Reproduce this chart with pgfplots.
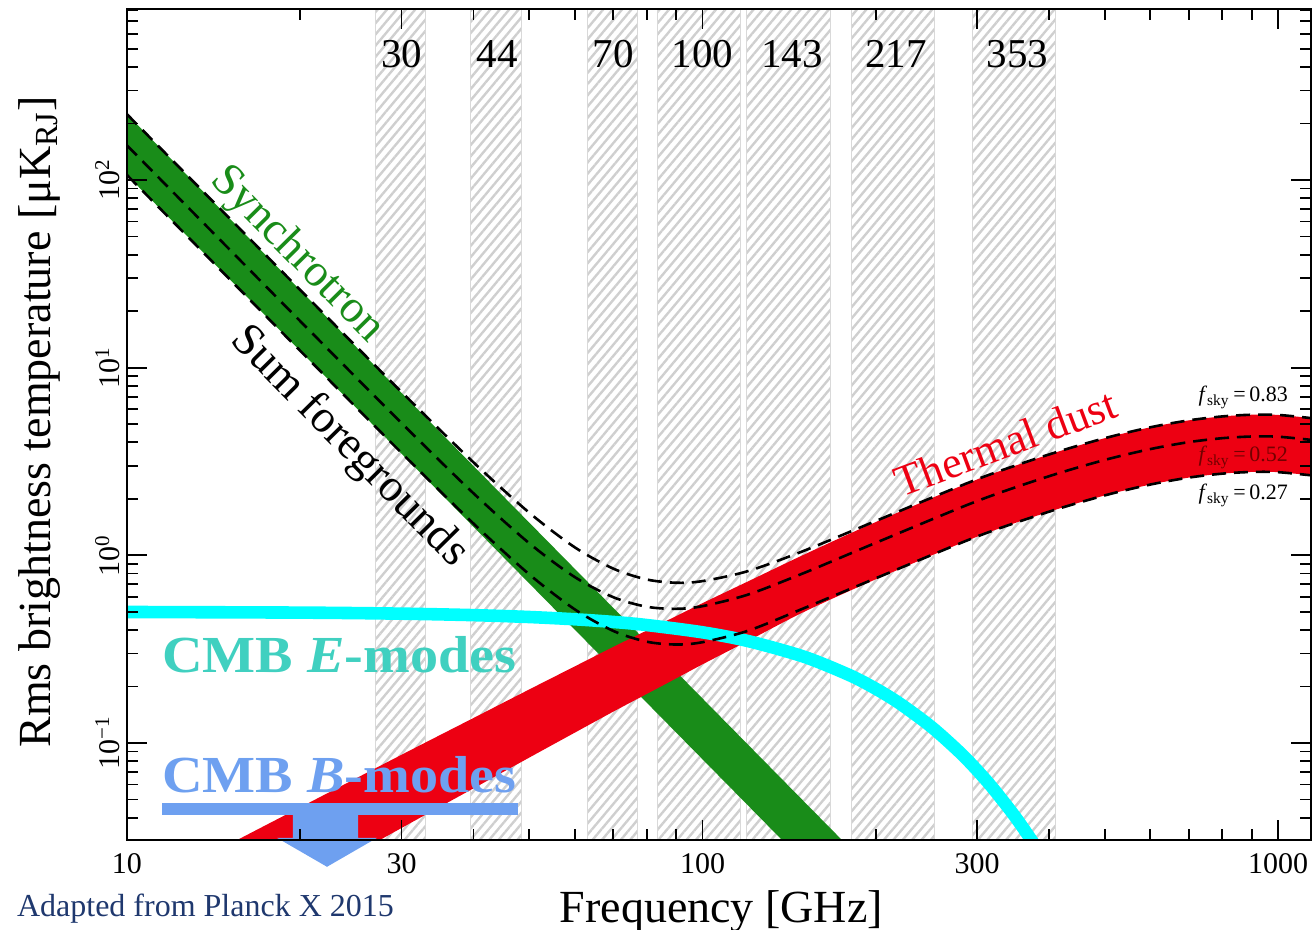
\documentclass[border=0pt]{standalone}
\usepackage{fontspec}
\setmainfont{Liberation Serif}
\usepackage{graphicx}
\usepackage{pgfplots}
\usepackage{pgfplotstable}
\pgfplotsset{compat=1.18}
\usepgfplotslibrary{fillbetween}
\usetikzlibrary{patterns.meta}

\definecolor{sgreen}{RGB}{25,140,25}
\definecolor{dred}{RGB}{237,0,18}
\definecolor{cmbcyan}{RGB}{0,255,255}
\definecolor{eturq}{RGB}{64,208,192}
\definecolor{bblue}{RGB}{110,160,240}
\definecolor{navytext}{RGB}{31,56,110}

% synchrotron rms: fsky = 0.83 (top), 0.52 (mid), 0.27 (bot)
\pgfplotstableread{
nu top mid bot
10 223.9 152.8 106.2
200 0.01995 0.01361 0.00946
}\synchtab

% thermal dust rms
\pgfplotstableread{
nu top mid bot
10 0.01493 0.01009 0.005321
15 0.02871 0.01977 0.01074
20 0.04539 0.03170 0.01762
30 0.08650 0.06152 0.03524
40 0.1358 0.09772 0.05728
50 0.1928 0.1403 0.08356
60 0.2559 0.1879 0.1135
70 0.3251 0.2404 0.1469
80 0.3972 0.2958 0.1824
90 0.4742 0.3548 0.2208
100 0.5559 0.4178 0.2624
120 0.7261 0.5508 0.3499
150 1.007 0.7709 0.4989
200 1.503 1.151 0.7447
300 2.535 1.941 1.256
400 3.443 2.636 1.706
500 4.207 3.221 2.084
600 4.808 3.681 2.382
700 5.236 4.009 2.594
800 5.495 4.207 2.723
900 5.610 4.295 2.780
1000 5.598 4.285 2.773
1150 5.370 4.111 2.661
}\dusttab

% sum of foregrounds
\pgfplotstableread{
nu top mid bot
10 223.9 152.8 106.2
15 63.42 43.27 30.07
20 25.93 17.69 12.29
30 7.414 5.062 3.510
40 3.128 2.139 1.476
50 1.686 1.159 0.7916
60 1.102 0.7653 0.5148
70 0.8487 0.5977 0.3952
80 0.7431 0.5318 0.3464
90 0.7141 0.5185 0.3346
100 0.7285 0.5356 0.3443
120 0.8239 0.6176 0.3963
150 1.056 0.8042 0.5221
200 1.523 1.165 0.7542
300 2.541 1.945 1.259
400 3.445 2.638 1.707
500 4.208 3.222 2.085
600 4.809 3.681 2.382
700 5.236 4.009 2.594
800 5.495 4.207 2.723
900 5.610 4.295 2.780
1000 5.598 4.285 2.773
1150 5.370 4.111 2.661
}\sumtab

% CMB E-modes
\pgfplotstableread{
nu T
10 0.4987
20 0.4949
30 0.4885
40 0.4798
50 0.4689
60 0.4560
70 0.4413
80 0.4249
100 0.3886
120 0.3491
150 0.2882
180 0.2299
200 0.1945
220 0.1625
250 0.1216
280 0.08905
300 0.07154
320 0.05707
350 0.04013
380 0.02784
400 0.02167
}\cmbtab

\tikzset{fill between/on layer=main}

\begin{document}
\begin{tikzpicture}
\begin{axis}[
  at={(0,0)}, anchor=south west,
  scale only axis, width=592pt, height=415.5pt,
  xmode=log, ymode=log,
  xmin=10, xmax=1141, ymin=0.0304, ymax=815,
  axis on top,
  clip mode=individual,
  axis line style={line width=1pt},
  tick style={black, line width=0.9pt},
  major tick length=10pt, minor tick length=5.5pt,
  xtick={10,30,100,300,1000},
  xticklabels={10,30,100,300,1000},
  minor xtick={20,40,50,60,70,80,90,200,400,500,600,700,800,900},
  ytick={0.1,1,10,100},
  yticklabels={10\textsuperscript{−1},10\textsuperscript{0},10\textsuperscript{1},10\textsuperscript{2}},
  minor ytick={0.04,0.05,0.06,0.07,0.08,0.09,0.2,0.3,0.4,0.5,0.6,0.7,0.8,0.9,2,3,4,5,6,7,8,9,20,30,40,50,60,70,80,90,200,300,400,500,600,700,800},
  tick label style={font=\fontsize{15}{18}\selectfont},
  xticklabel style={yshift=-3pt},
  yticklabel style={rotate=90, anchor=south},
  xlabel={Frequency [GHz]},
  ylabel={Rms brightness temperature [μK\textsubscript{RJ}]},
  label style={font=\fontsize{23}{27}\selectfont},
  xlabel style={at={(axis description cs:0.502,-0.0987)}, anchor=base},
  ylabel style={at={(axis description cs:-0.065,0.503)}, anchor=base},
  bandstyle/.style={draw=gray!30, line width=0.5pt, pattern={Lines[angle=50,distance=3.6pt,line width=1.2pt]}, pattern color=gray!38},
]
% Planck frequency bands
\addplot[bandstyle] coordinates {(27,0.02) (33,0.02) (33,1000) (27,1000)} --cycle;
\addplot[bandstyle] coordinates {(39.6,0.02) (48.4,0.02) (48.4,1000) (39.6,1000)} --cycle;
\addplot[bandstyle] coordinates {(63,0.02) (77,0.02) (77,1000) (63,1000)} --cycle;
\addplot[bandstyle] coordinates {(83.5,0.02) (116.5,0.02) (116.5,1000) (83.5,1000)} --cycle;
\addplot[bandstyle] coordinates {(119.4,0.02) (166.6,0.02) (166.6,1000) (119.4,1000)} --cycle;
\addplot[bandstyle] coordinates {(181.2,0.02) (252.8,0.02) (252.8,1000) (181.2,1000)} --cycle;
\addplot[bandstyle] coordinates {(294.8,0.02) (411.2,0.02) (411.2,1000) (294.8,1000)} --cycle;

% synchrotron band
\addplot[name path=st, draw=none] table[x=nu,y=top]{\synchtab};
\addplot[name path=sb, draw=none] table[x=nu,y=bot]{\synchtab};
\addplot[sgreen] fill between[of=st and sb];

% thermal dust band
\addplot[name path=dt, draw=none, smooth] table[x=nu,y=top]{\dusttab};
\addplot[name path=db, draw=none, smooth] table[x=nu,y=bot]{\dusttab};
\addplot[dred] fill between[of=dt and db];

% CMB E-modes
\addplot[cmbcyan, line width=6.3pt, smooth] table[x=nu,y=T]{\cmbtab};

% sum foregrounds
\addplot[black, line width=1.3pt, dash pattern=on 7pt off 4pt, smooth] table[x=nu,y=top]{\sumtab};
\addplot[black, line width=1.3pt, dash pattern=on 7pt off 4pt, smooth] table[x=nu,y=mid]{\sumtab};
\addplot[black, line width=1.3pt, dash pattern=on 7pt off 4pt, smooth] table[x=nu,y=bot]{\sumtab};

% band labels
\node[font=\fontsize{20.5}{24}\selectfont] at (axis cs:30,469) {30};
\node[font=\fontsize{20.5}{24}\selectfont] at (axis cs:44,469) {44};
\node[font=\fontsize{20.5}{24}\selectfont] at (axis cs:70,469) {70};
\node[font=\fontsize{20.5}{24}\selectfont] at (axis cs:100,469) {100};
\node[font=\fontsize{20.5}{24}\selectfont] at (axis cs:143,469) {143};
\node[font=\fontsize{20.5}{24}\selectfont] at (axis cs:217,469) {217};
\node[font=\fontsize{20.5}{24}\selectfont] at (axis cs:353,469) {353};

\node[rotate=-45.4, text=sgreen, font=\fontsize{23}{27}\selectfont] at (axis cs:19.74,39.85) {Synchrotron};
\node[rotate=-45.4, text=black, font=\fontsize{23}{27}\selectfont] at (axis cs:24.31,3.78) {Sum foregrounds};
\node[rotate=20.5, anchor=base, text=dred, font=\fontsize{22}{26}\selectfont] at (axis cs:343.6,3.344) {Thermal dust};

\node[anchor=base east, font=\fontsize{11}{13}\selectfont] at (axis cs:1070,6.57) {\textit{f}\textsubscript{sky}\,=\,0.83};
\node[anchor=base east, text=red!45!black, font=\fontsize{11}{13}\selectfont] at (axis cs:1070,3.146) {\textit{f}\textsubscript{sky}\,=\,0.52};
\node[anchor=base east, font=\fontsize{11}{13}\selectfont] at (axis cs:1070,1.973) {\textit{f}\textsubscript{sky}\,=\,0.27};

\node[anchor=base, text=eturq, font=\fontsize{26}{30}\selectfont\bfseries] at (axis cs:23.39,0.2363) {\scalebox{1.08}[1]{CMB \textit{E}-modes}};
\node[anchor=base, text=bblue, font=\fontsize{26}{30}\selectfont\bfseries] at (axis cs:23.39,0.05422) {\scalebox{1.08}[1]{CMB \textit{B}-modes}};
\fill[bblue] (axis cs:11.50,0.04139) rectangle (axis cs:47.80,0.04797);

\coordinate (a1) at (axis cs:19.43,0.0440);
\coordinate (a2) at (axis cs:25.20,0.0440);
\coordinate (a3) at (axis cs:25.20,0.03122);
\coordinate (a4) at (axis cs:27.20,0.03122);
\coordinate (a5) at (axis cs:22.26,0.02188);
\coordinate (a6) at (axis cs:18.22,0.03122);
\coordinate (a7) at (axis cs:19.43,0.03122);
\end{axis}
\fill[bblue] (a1)--(a2)--(a3)--(a4)--(a5)--(a6)--(a7)--cycle;
\node[anchor=base west, text=navytext, font=\fontsize{16}{19}\selectfont] at (-58.5pt,-38.5pt) {Adapted from Planck X 2015};
\pgfresetboundingbox
\path[use as bounding box] (-63.5pt,-45pt) rectangle (593.5pt,420pt);
\end{tikzpicture}
\end{document}
